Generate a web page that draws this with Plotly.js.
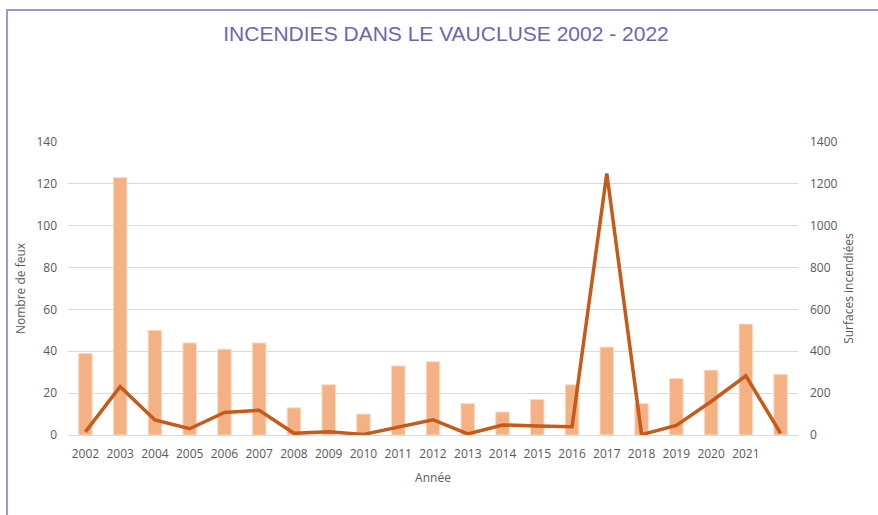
<!DOCTYPE html>
<html>
<head>
<meta charset="utf-8">
<script src="https://cdn.plot.ly/plotly-3.0.1.min.js"></script>
<style>
  html, body { margin: 0; padding: 0; background: #fff; }
  #wrap { position: relative; width: 878px; height: 515px; }
  #chart { width: 878px; height: 515px; }
  #frame { position: absolute; left: 6px; top: 9px; right: -10px; bottom: -10px;
           border-top: 2px solid #9d96cf; border-left: 2px solid #9d96cf; pointer-events: none; }
</style>
</head>
<body>
<div id="wrap">
  <div id="chart"></div>
  <div id="frame"></div>
</div>
<script>
// Data
const years = [2002, 2003, 2004, 2005, 2006, 2007, 2008, 2009, 2010, 2011, 2012,
               2013, 2014, 2015, 2016, 2017, 2018, 2019, 2020, 2021, 2022];
const nombreFeux = [39, 123, 50, 44, 41, 44, 13, 24, 10, 33, 35,
                    15, 11, 17, 24, 42, 15, 27, 31, 53, 29];
const surfaces = [15, 231, 72, 30, 108, 118, 8, 16, 3, 38, 73,
                  5, 48, 43, 40, 1250, 2, 46, 160, 283, 8];
const tickYears = [2002, 2003, 2004, 2005, 2006, 2007, 2008, 2009, 2010, 2011,
                   2012, 2013, 2014, 2015, 2016, 2017, 2018, 2019, 2020, 2021];
const tickLabels = tickYears.map(String);

const txt = '#595959';
const font = { family: 'Open Sans, Liberation Sans, sans-serif', size: 12, color: txt };

const traces = [
  {
    type: 'bar', x: years, y: nombreFeux, name: 'Nombre de feux',
    marker: { color: '#f4b183', line: { color: '#fbdcc6', width: 1 } },
    yaxis: 'y'
  },
  {
    type: 'scatter', mode: 'lines', x: years, y: surfaces, name: 'Surfaces incendiées',
    line: { color: '#c55a1a', width: 3.5 },
    yaxis: 'y2'
  }
];

const layout = {
  width: 878, height: 515,
  margin: { l: 68, r: 80, t: 142, b: 80 },
  paper_bgcolor: '#fff', plot_bgcolor: '#fff',
  showlegend: false,
  bargap: 0.61,
  font: font,
  title: {
    text: 'INCENDIES DANS LE VAUCLUSE 2002 - 2022',
    font: { family: 'Liberation Sans Narrow, Liberation Sans, Arial, sans-serif', size: 21, color: '#7064b0' },
    x: 0.508, xanchor: 'center', y: 0.935, yanchor: 'middle'
  },
  xaxis: {
    range: [2001.5, 2022.5],
    tickmode: 'array', tickvals: tickYears, ticktext: tickLabels,
    showgrid: false, zeroline: false, showline: false,
    ticks: '', ticklabelstandoff: 10,
    tickfont: font,
    title: { text: 'Année', font: font, standoff: 12 }
  },
  yaxis: {
    range: [0, 140], tickvals: [0, 20, 40, 60, 80, 100, 120, 140],
    showgrid: true, gridcolor: '#d9d9d9', gridwidth: 1,
    zeroline: true, zerolinecolor: '#d9d9d9', zerolinewidth: 1,
    showline: false, ticks: '', ticklabelstandoff: 10,
    tickfont: font,
    title: { text: 'Nombre de feux', font: font, standoff: 8 }
  },
  yaxis2: {
    overlaying: 'y', side: 'right',
    range: [0, 1400], tickvals: [0, 200, 400, 600, 800, 1000, 1200, 1400],
    showgrid: false, zeroline: false, showline: false,
    ticks: '', ticklabelstandoff: 11,
    tickfont: font,
    title: { text: 'Surfaces incendiées', font: font, standoff: 8 }
  }
};

Plotly.newPlot('chart', traces, layout, { displayModeBar: false, staticPlot: true });
</script>
</body>
</html>
